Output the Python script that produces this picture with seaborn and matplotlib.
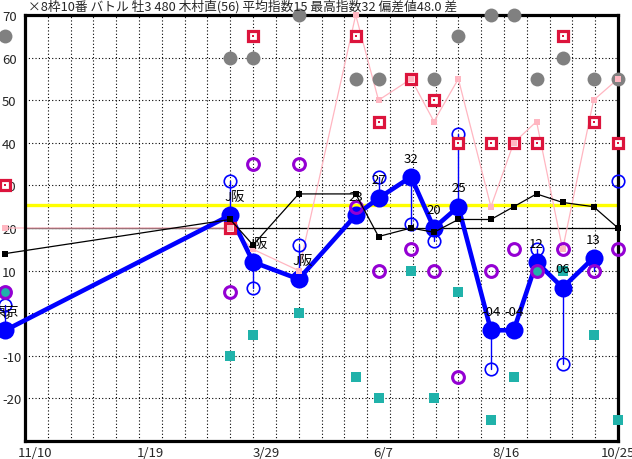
import numpy as np
import pandas as pd
import matplotlib
matplotlib.use("Agg")
import matplotlib.pyplot as plt
import seaborn as sns

# ---------------- data ----------------
title = "×8枠10番 バトル 牡3 480 木村直(56) 平均指数15 最高指数32 偏差値48.0 差"
days = [-12, 126, 140, 168, 203, 217, 237, 251, 266, 286, 300, 314, 330, 349, 364]
main_idx = [-4, 23, 12, 8, 23, 27, 32, 20, 25, -4, -4, 12, 6, 13, np.nan]
labels = ["東京", "J阪", "J阪", "J阪", "23", "27", "32", "20", "25", "-04", "-04", "12", "06", "13", ""]
open_blue = [2, 31, 6, 16, np.nan, 32, 21, 17, 42, -13, np.nan, 15, -12, 10, 31]
black_idx = [14, 22, 16, 28, 28, 18, 20, 19, 22, 22, 25, 28, 26, 25, 20]
pink_idx = [20, 20, 15, 10, 70, 50, 55, 45, 55, 25, 40, 45, 15, 50, 55]
crimson_idx = [30, 20, 65, np.nan, 65, 45, 55, 50, 40, 40, 40, 40, 65, 45, 40]
gray_idx = [65, 60, 60, 70, 55, 55, np.nan, 55, 65, 70, 70, 55, 60, 55, 55]
purple_idx = [5, 5, 35, 35, 25, 10, 15, 10, -15, 10, 15, 10, 15, 10, 15]
teal_idx = [5, -10, -5, 0, -15, -20, 10, -20, 5, -25, -15, 10, 10, -5, -25]
yellow_level = 25.5
ref_level = 20
xtick_pos = [6, 77, 148, 220, 295, 364]
xtick_labels = ["11/10", "1/19", "3/29", "6/7", "8/16", "10/25"]
ytick_vals = [-20, -10, 0, 10, 20, 30, 40, 50, 60, 70]

df = pd.DataFrame({"day": days, "main": main_idx, "open": open_blue,
                   "black": black_idx, "pink": pink_idx, "crimson": crimson_idx,
                   "gray": gray_idx, "purple": purple_idx, "teal": teal_idx})

# ---------------- style ----------------
sns.set_style("white")
plt.rcParams["font.family"] = ["Noto Sans CJK JP", "DejaVu Sans"]

W, H = 632, 460
fig = plt.figure(figsize=(W / 100, H / 100), dpi=100)
L, R, T, B = 25, 618, 16, 442
ax = fig.add_axes([L / W, 1 - B / H, (R - L) / W, (B - T) / H])
ax.set_xlim(0, 364)
ax.set_ylim(-30, 70)

# grid
for gx in range(14, 364, 14):
    ax.axvline(gx, color="black", lw=0.8, ls=(0, (1, 2)), zorder=1)
for gy in range(-20, 70, 10):
    ax.axhline(gy, color="black", lw=0.8, ls=(0, (1, 2)), zorder=1)

ax.axhline(yellow_level, color="#ffff00", lw=2.4, zorder=1.5)
ax.axhline(ref_level, color="black", lw=0.9, zorder=1.6)

# pink series line
sns.lineplot(data=df, x="day", y="pink", color="#ffb6c1", lw=0.9, ax=ax,
             zorder=2, clip_on=False, legend=False)

# main blue line with dots
sns.lineplot(data=df.dropna(subset=["main"]), x="day", y="main", color="#0000ff",
             lw=3.3, marker="o", markersize=13, markeredgewidth=0, ax=ax,
             zorder=4, clip_on=False, legend=False)

# thin connectors to open blue circles
for d, m, o in zip(days, main_idx, open_blue):
    if not (np.isnan(m) or np.isnan(o)):
        ax.plot([d, d], [m, o], color="#0000ff", lw=1, zorder=4.5, clip_on=False)
ax.plot(days, open_blue, ls="none", marker="o", ms=9, mfc="none", mec="#0000ff",
        mew=1.2, zorder=5, clip_on=False)

# teal squares and purple rings
ax.plot(days, teal_idx, ls="none", marker="s", ms=6.5, color="#20b2aa",
        mew=0, zorder=6, clip_on=False)
ax.plot(days, purple_idx, ls="none", marker="o", ms=8.5, mfc="none", mec="#9400d3",
        mew=2.2, zorder=6.5, clip_on=False)

# gray circles
ax.plot(days, gray_idx, ls="none", marker="o", ms=10, color="#808080", mew=0,
        zorder=6.8, clip_on=False)
# crimson squares
ax.plot(days, crimson_idx, ls="none", marker="s", ms=7.5, mfc="white", mec="#dc143c",
        mew=2.3, zorder=7, clip_on=False)
ax.plot(days, crimson_idx, ls="none", marker="s", ms=1.5, color="#dc143c", mew=0,
        zorder=7.1, clip_on=False)
# pink squares
ax.plot(days, pink_idx, ls="none", marker="s", ms=4.5, color="#ffb6c1", mew=0,
        zorder=8, clip_on=False)

# black series
ax.plot(days, black_idx, color="black", lw=0.9, marker="s", ms=4.5, mew=0,
        zorder=9, clip_on=False)

# labels above the main dots
for d, m, t in zip(days, main_idx, labels):
    if t and not np.isnan(m):
        dx = 3 if "阪" in t else 0
        ax.annotate(t, (d, m), xytext=(dx, 13.5), textcoords="offset points",
                    ha="center", va="center", fontsize=9.5, color="black",
                    zorder=10, annotation_clip=False)

# axes frame
for s in ax.spines.values():
    s.set_linewidth(2.3)
    s.set_color("black")
    s.set_zorder(3)

ax.set_xticks(xtick_pos)
ax.set_xticklabels(xtick_labels, fontsize=9.5)
ax.set_yticks(ytick_vals)
ax.set_yticklabels([str(v) for v in ytick_vals], fontsize=9.5)
ax.tick_params(axis="x", length=0, pad=3.5)
ax.tick_params(axis="y", length=0, pad=16.5)
for lab in ax.get_yticklabels():
    lab.set_horizontalalignment("left")
ax.set_xlabel("")
ax.set_ylabel("")

fig.text(28 / W, 1 - 7 / H, title, ha="left", va="center", fontsize=9.2)

fig.savefig("out.png", dpi=100)
